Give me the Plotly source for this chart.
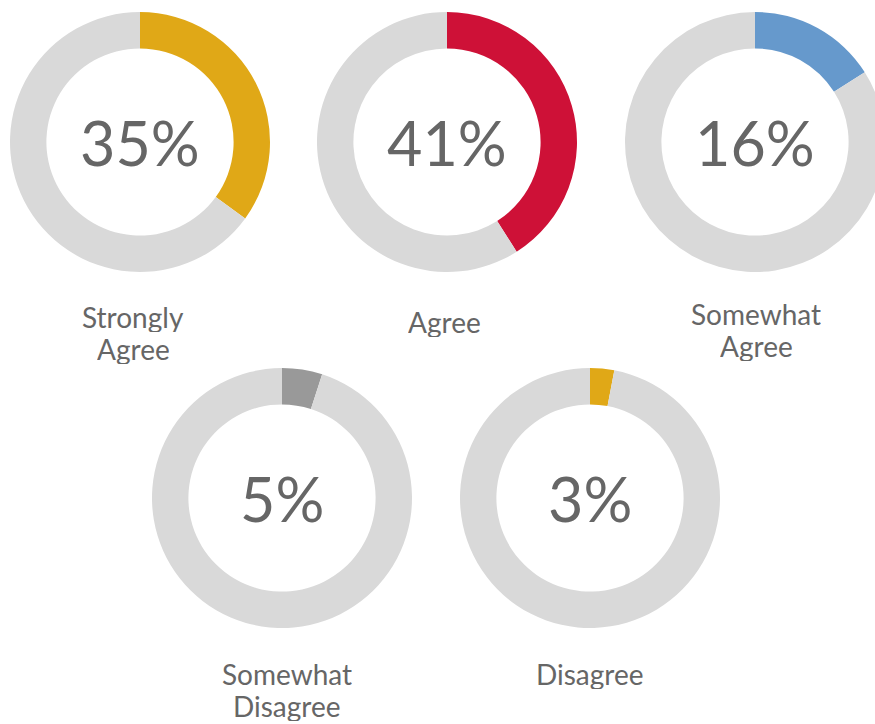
import plotly.graph_objects as go

# Data
categories = ["Strongly<br>Agree", "Agree", "Somewhat<br>Agree", "Somewhat<br>Disagree", "Disagree"]
percents = [35, 41, 16, 5, 3]
colors = ["#E0A817", "#CE1137", "#6699CC", "#999999", "#E0A817"]
rest_color = "#D9D9D9"
text_color = "#666666"

W, H = 890, 724
R = 130
centers = [(140, 142), (447, 142), (755, 142), (282, 498), (590, 498)]
label_pos = [(133, 316), (444, 321), (756, 313), (287, 673), (590, 673)]
LINE = 32

fig = go.Figure()
for i, (cat, p, col) in enumerate(zip(categories, percents, colors)):
    cx, cy = centers[i]
    fig.add_trace(go.Pie(
        values=[p, 100 - p],
        labels=[cat, "rest"],
        hole=0.72,
        sort=False,
        direction="clockwise",
        rotation=0,
        marker=dict(colors=[col, rest_color], line=dict(width=0)),
        textinfo="none",
        hoverinfo="skip",
        showlegend=False,
        domain=dict(x=[(cx - R) / W, (cx + R) / W], y=[1 - (cy + R) / H, 1 - (cy - R) / H]),
    ))
    fig.add_annotation(x=cx / W, y=1 - cy / H, xref="paper", yref="paper",
                       text=f"{p}%", showarrow=False,
                       font=dict(family="Lato", size=61, color=text_color),
                       xanchor="center", yanchor="middle")
    lx, ly = label_pos[i]
    for j, line in enumerate(cat.split("<br>")):
        fig.add_annotation(x=lx / W, y=1 - (ly + j * LINE) / H, xref="paper", yref="paper",
                           text=line, showarrow=False, height=31,
                           font=dict(family="Lato", size=28, color=text_color),
                           xanchor="center", yanchor="middle")

fig.update_layout(width=W, height=H, margin=dict(l=0, r=0, t=0, b=0),
                  paper_bgcolor="white", plot_bgcolor="white")

fig.write_html("out.html", post_script="document.body.style.overflow='hidden';document.body.style.margin='0';")
